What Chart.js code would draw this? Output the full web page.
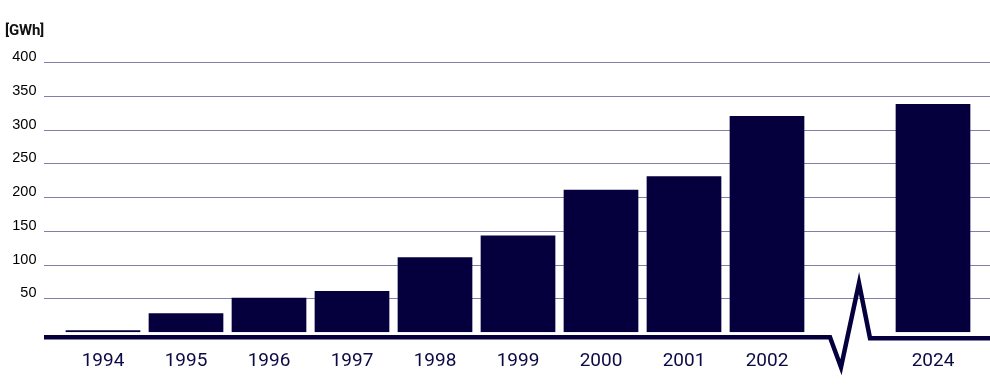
<!DOCTYPE html>
<html>
<head>
<meta charset="utf-8">
<script src="https://cdn.jsdelivr.net/npm/chart.js@4/dist/chart.umd.min.js"></script>
<style>
  html, body { margin: 0; padding: 0; background: #fff; }
  #wrap { position: relative; width: 990px; height: 391px; }
  #unit { position: absolute; left: 5px; top: 21px; font: bold 15px Roboto, sans-serif; color: #111; letter-spacing: -0.2px; }
</style>
</head>
<body>
<div id="wrap">
  <div id="unit">[GWh]</div>
  <canvas id="chart" width="990" height="391"></canvas>
</div>
<script>
// categories (empty slot = axis break between 2002 and 2024)
var years = ["1994", "1995", "1996", "1997", "1998", "1999", "2000", "2001", "2002", "", "2024"];
var gwh = [3, 28, 51, 61, 111, 143, 211, 231, 320, null, 338];
var yTicks = [0, 50, 100, 150, 200, 250, 300, 350, 400];

var navy = "#05003d";
var gridColor = "#837ea9";

// horizontal grid lines run across the whole canvas, not just the chart area
var fullGrid = {
    id: "fullGrid",
    beforeDatasetsDraw: function(chart){
        var ctx = chart.ctx, y = chart.scales.y;
        ctx.save();
        ctx.strokeStyle = gridColor;
        ctx.lineWidth = 1;
        yTicks.forEach(function(v){
            if (v === 0) return;
            var py = Math.round(y.getPixelForValue(v)) + 0.5;
            ctx.beginPath();
            ctx.moveTo(44, py);
            ctx.lineTo(chart.width, py);
            ctx.stroke();
        });
        ctx.restore();
    },
    afterDatasetsDraw: function(chart){
        var ctx = chart.ctx, x = chart.scales.x, y = chart.scales.y;
        var base = y.getPixelForValue(0) + 5;
        var bx = x.getPixelForValue(9);
        ctx.save();
        ctx.strokeStyle = navy;
        ctx.lineWidth = 4.5;
        ctx.lineJoin = "miter";
        ctx.beginPath();
        ctx.moveTo(44, base);
        ctx.lineTo(bx - 20, base);
        ctx.lineTo(bx - 9, base + 30);
        ctx.lineTo(bx + 9, base - 54);
        ctx.lineTo(bx + 20, base + 1);
        ctx.lineTo(chart.width, base + 1);
        ctx.stroke();
        ctx.restore();
    }
};

new Chart(document.getElementById("chart"), {
    type: "bar",
    data: {
        labels: years,
        datasets: [{
            data: gwh,
            backgroundColor: navy,
            borderWidth: 0,
            barPercentage: 0.9,
            categoryPercentage: 1
        }]
    },
    options: {
        responsive: false,
        animation: false,
        layout: { padding: { top: 62, right: 15.5, bottom: 0, left: 0 } },
        plugins: { legend: { display: false }, tooltip: { enabled: false } },
        scales: {
            y: {
                min: 0,
                max: 400,
                afterFit: function(s){ s.width = 61.5; },
                afterBuildTicks: function(s){ s.ticks = yTicks.map(function(v){ return { value: v }; }); },
                border: { display: false },
                grid: { display: false, drawTicks: false },
                ticks: {
                    padding: 25,
                    labelOffset: -5,
                    color: "#000",
                    font: { family: "Liberation Sans", size: 14.5 },
                    callback: function(v){ return v === 0 ? "" : v; }
                }
            },
            x: {
                border: { display: false },
                grid: { display: false, drawTicks: false },
                ticks: {
                    padding: 18,
                    color: "#0b0a45",
                    font: { family: "Roboto", size: 19 },
                    maxRotation: 0,
                    autoSkip: false
                }
            }
        }
    },
    plugins: [fullGrid]
});
</script>
</body>
</html>
